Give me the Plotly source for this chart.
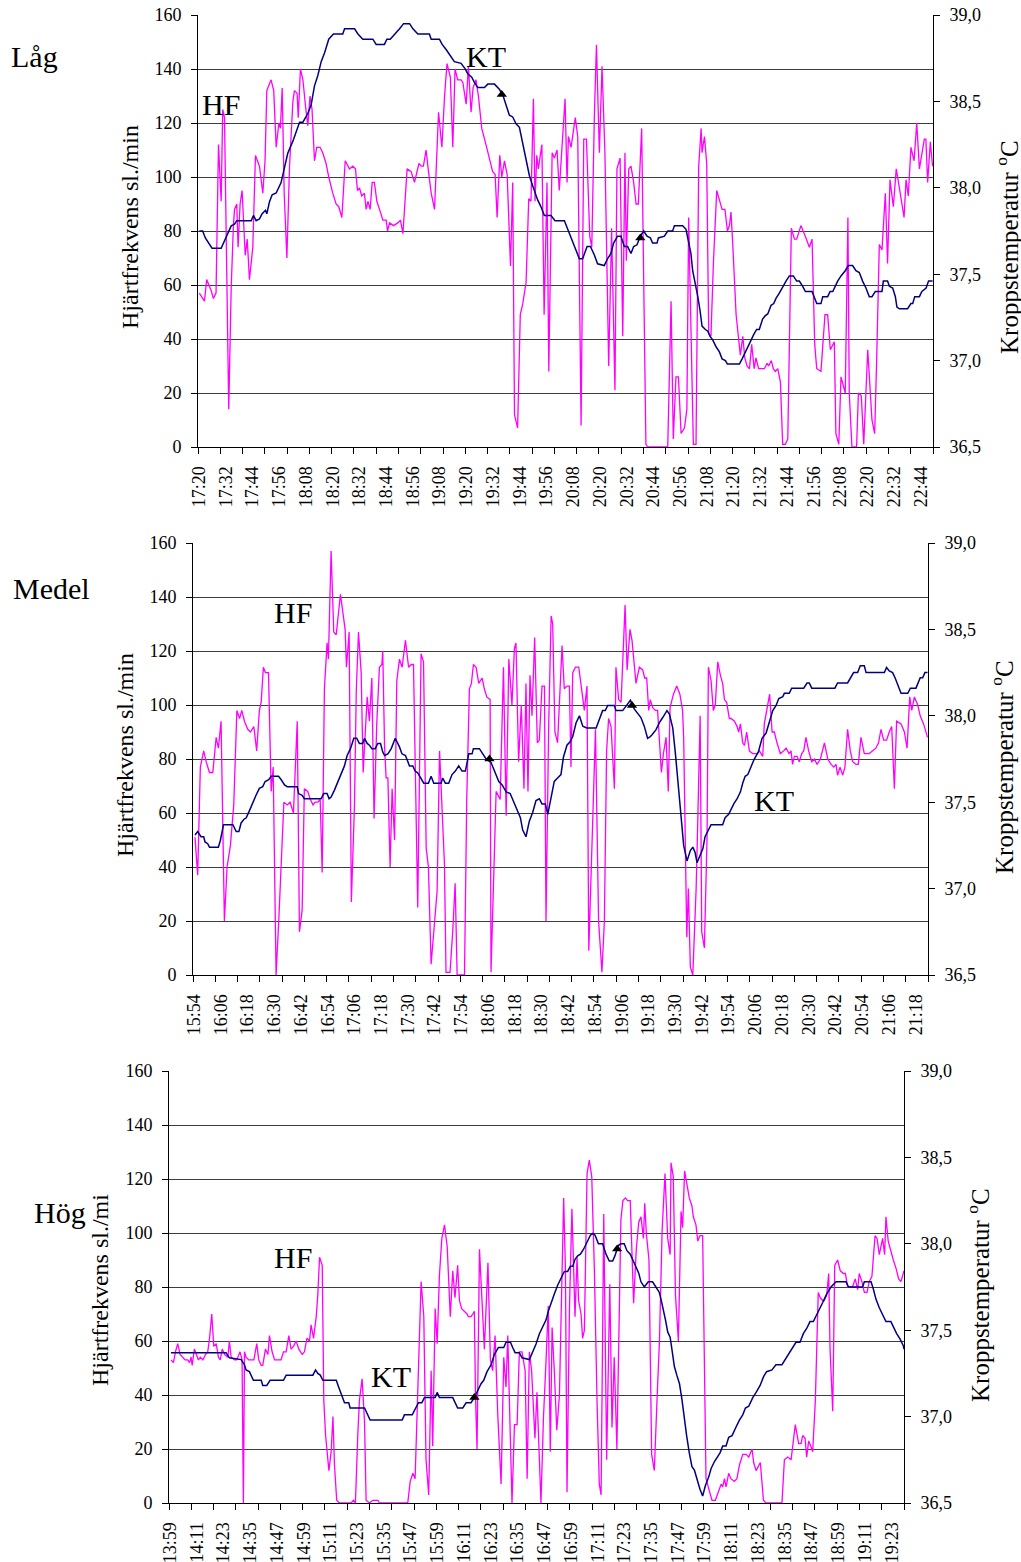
import plotly.graph_objects as go

W, H = 1021, 1562
FONT = "Liberation Serif, Times New Roman, serif"
HF_COLOR = "#FF00FF"
KT_COLOR = "#000080"
GRID = "#3c3c3c"

# ---------------------------------------------------------------------------
# Låg  (start 17:20, one category per minute, x = minutes after start)
# ---------------------------------------------------------------------------
lag_ticks = ["17:20", "17:32", "17:44", "17:56", "18:08", "18:20", "18:32",
             "18:44", "18:56", "19:08", "19:20", "19:32", "19:44", "19:56",
             "20:08", "20:20", "20:32", "20:44", "20:56", "21:08", "21:20",
             "21:32", "21:44", "21:56", "22:08", "22:20", "22:32", "22:44"]

lag_hf = [(0.1,57),(2.4,54),(3.4,62),(5.4,58),(6.4,55),(7.6,57),(8.7,112),(9.9,91),(10.6,125),(11.4,122),
 (13.3,14),(14.4,59),(15.4,82),(15.9,88),(16.9,90),(17.5,74),(18.4,90),(19.3,95),(20.7,71),(21.6,77),
 (22.6,62),(24.1,74),(25.3,108),(27.1,104),(28.6,94),(29.6,106),(30.4,132),(32.3,136),(33.5,132),(34.6,111),
 (35.8,120),(36.5,118),(37.3,133),(38.2,94),(39.4,70),(40.6,104),(42.1,128),(42.8,132),(44.0,131),(44.5,122),
 (45.5,140),(46.6,136),(47.8,126),(48.8,119),(49.8,130),(50.7,125),(51.8,106),(52.8,111),(54.3,111),(55.5,109),
 (57.0,105),(58.2,100),(60.0,94),(61.5,90),(62.7,89),(64.1,85),(65.6,106),(67.5,103),(69.0,104),(70.2,103),
 (71.1,95),(72.0,96),(73.0,93),(74.2,94),(75.0,88),(75.8,91),(76.8,88),(77.7,98),(78.7,98),(79.8,91),
 (81.0,88),(82.5,84),(84.0,84),(84.6,80),(85.5,83),(87.3,82),(89.2,83),(90.4,84),(91.5,79),(93.4,103),
 (95.2,102),(96.7,98),(98.7,105),(99.7,104),(100.7,104),(101.9,110),(103.0,102),(104.2,94),(105.7,88),(107.5,124),
 (109.0,111),(110.2,130),(111.3,142),(112.8,137),(113.9,111),(114.9,140),(116.1,136),(117.6,136),(118.4,135),(119.9,127),
 (120.9,141),(122.1,124),(123.0,133),(124.3,136),(125.4,130),(126.9,118),(128.8,112),(130.8,106),(131.8,102),(132.9,101),
 (133.8,85),(135.0,108),(135.9,100),(137.1,106),(138.3,101),(139.8,67),(140.8,98),(141.6,12),(143.0,7),(144.2,49),
 (145.3,53),(146.8,61),(148.0,92),(149.0,91),(150.1,129),(150.8,91),(151.6,108),(152.3,103),(153.1,107),(153.9,112),
 (154.9,49),(156.2,98),(157.0,28),(158.5,109),(159.5,107),(160.7,110),(161.7,95),(162.8,110),(164.3,129),(165.2,98),
 (165.8,115),(167.0,111),(168.0,116),(168.9,122),(170.0,115),(171.5,8),(172.7,114),(173.9,114),(175.4,78),(176.3,74),
 (177.5,124),(178.4,149),(179.7,109),(180.9,141),(182.2,109),(183.0,72),(183.9,30),(185.2,81),(186.7,21),(187.6,103),
 (189.0,107),(190.2,41),(191.2,109),(191.8,69),(192.9,103),(193.9,104),(195.1,98),(196.2,90),(197.2,90),(198.7,118),
 (200.6,1),(201.4,0),(210.4,0),(211.9,54),(212.9,3),(214.1,26),(215.2,26),(216.4,5),(217.9,7),(219.0,14),
 (219.8,85),(221.9,1),(223.1,1),(224.3,104),(225.4,118),(225.8,109),(226.9,115),(227.9,105),(228.8,42),(229.8,41),
 (230.9,68),(232.4,95),(233.6,91),(234.8,88),(236.1,88),(237.2,80),(238.1,82),(238.8,87),(239.6,75),(241.1,49),
 (243.0,34),(244.1,41),(245.0,33),(246.0,30),(247.1,29),(248.1,38),(249.2,29),(250.0,33),(251.2,29),(253.8,29),
 (255.0,31),(255.7,30),(256.9,32),(257.8,29),(258.7,28),(259.8,29),(261.0,24),(262.0,1),(263.2,1),(264.3,3),
 (265.9,81),(267.3,77),(268.3,77),(270.2,82),(272.2,78),(274.0,74),(275.2,77),(276.4,38),(277.3,29),(279.2,28),
 (281.0,49),(282.2,49),(283.4,36),(285.2,39),(285.9,5),(287.2,1),(288.2,26),(290.1,20),(291.3,85),(291.9,20),
 (293.1,0),(295.2,0),(296.0,20),(297.3,19),(298.4,1),(300.2,36),(302.1,10),(303.3,5),(304.2,32),(305.4,75),
 (306.6,73),(308.1,94),(309.1,68),(310.2,99),(311.7,89),(313.0,103),(314.4,96),(315.6,89),(316.5,85),(317.4,99),
 (318.4,93),(319.6,111),(321.0,106),(322.2,120),(323.4,103),(325.6,114),(326.3,114),(327.1,98),(328.3,113),(329.3,104)]

lag_kt = [(0.1,37.75),(1.6,37.75),(2.8,37.71),(4.3,37.68),(5.8,37.65),(9.9,37.65),(11.4,37.69),(12.9,37.74),(14.4,37.78),(15.9,37.79),
 (16.9,37.81),(23.4,37.81),(24.4,37.84),(25.6,37.81),(27.1,37.82),(28.3,37.85),(29.8,37.87),(30.4,37.85),(31.6,37.92),(32.8,37.96),
 (34.6,37.97),(36.8,38.03),(38.3,38.12),(39.8,38.20),(42.1,38.27),(43.6,38.33),(45.1,38.38),(46.6,38.38),(48.8,38.43),(50.3,38.48),
 (51.8,38.59),(53.3,38.65),(54.8,38.73),(56.3,38.78),(58.2,38.86),(60.3,38.89),(64.5,38.89),(65.3,38.92),(69.8,38.92),(71.3,38.89),
 (73.5,38.86),(78.0,38.86),(79.5,38.83),(83.2,38.83),(84.3,38.86),(85.8,38.86),(88.0,38.89),(90.0,38.92),(91.8,38.95),(94.5,38.95),
 (96.0,38.92),(98.2,38.89),(103.4,38.89),(104.2,38.86),(107.9,38.86),(109.1,38.83),(110.9,38.80),(112.8,38.76),(114.6,38.73),(117.6,38.72),
 (119.4,38.69),(120.6,38.66),(122.4,38.64),(123.6,38.61),(125.1,38.58),(128.1,38.58),(129.6,38.60),(132.6,38.60),(134.8,38.57),(136.3,38.54),
 (137.8,38.48),(139.3,38.42),(140.8,38.41),(142.3,38.37),(143.8,38.35),(145.3,38.26),(146.8,38.16),(148.3,38.07),(149.8,38.01),(152.0,37.93),
 (153.5,37.89),(155.0,37.84),(158.0,37.84),(159.8,37.81),(164.0,37.81),(165.5,37.76),(167.3,37.70),(169.2,37.64),(170.7,37.59),(172.2,37.59),
 (174.2,37.66),(175.7,37.66),(177.5,37.61),(178.9,37.56),(181.9,37.55),(183.4,37.59),(184.9,37.62),(186.1,37.68),(187.9,37.72),(189.4,37.72),
 (190.9,37.66),(192.4,37.66),(193.9,37.62),(195.1,37.66),(196.6,37.67),(198.1,37.72),(199.6,37.75),(201.1,37.72),(202.6,37.71),(203.6,37.68),
 (205.6,37.68),(206.2,37.71),(208.9,37.72),(210.4,37.75),(212.6,37.75),(213.4,37.78),(217.1,37.78),(218.6,37.76),(219.6,37.70),(220.8,37.62),
 (221.6,37.52),(222.8,37.45),(223.9,37.37),(224.9,37.29),(225.8,37.20),(227.3,37.18),(228.4,37.17),(229.4,37.14),(230.6,37.12),(232.1,37.08),
 (233.6,37.05),(234.8,37.01),(236.3,37.00),(237.2,36.98),(242.6,36.98),(243.8,37.01),(245.6,37.06),(247.4,37.11),(249.0,37.15),(250.3,37.18),
 (251.5,37.18),(253.0,37.24),(254.2,37.26),(255.3,37.27),(256.8,37.32),(258.0,37.33),(259.0,37.36),(260.5,37.39),(262.0,37.43),(263.5,37.46),
 (265.0,37.49),(266.8,37.49),(268.3,37.46),(269.5,37.46),(271.0,37.43),(272.2,37.40),(275.2,37.40),(276.2,37.36),(277.3,37.33),(279.2,37.33),
 (280.0,37.37),(282.2,37.37),(283.3,37.40),(284.5,37.40),(285.5,37.43),(286.7,37.46),(288.2,37.49),(290.1,37.52),(291.5,37.55),(293.4,37.55),
 (294.9,37.52),(296.4,37.51),(297.9,37.46),(299.4,37.42),(300.9,37.37),(302.1,37.37),(303.6,37.40),(306.6,37.40),(307.2,37.46),(309.1,37.46),
 (309.9,37.43),(311.4,37.42),(312.6,37.37),(313.3,37.31),(314.4,37.30),(318.1,37.30),(319.6,37.33),(320.4,37.33),(321.3,37.37),(323.4,37.37),
 (324.5,37.40),(326.4,37.42),(327.5,37.46),(329.3,37.46)]

lag_marks = [(135.9, 38.54), (198.1, 37.71)]

# ---------------------------------------------------------------------------
# Medel  (start 15:54)
# ---------------------------------------------------------------------------
medel_ticks = ["15:54", "16:06", "16:18", "16:30", "16:42", "16:54", "17:06",
               "17:18", "17:30", "17:42", "17:54", "18:06", "18:18", "18:30",
               "18:42", "18:54", "19:06", "19:18", "19:30", "19:42", "19:54",
               "20:06", "20:18", "20:30", "20:42", "20:54", "21:06", "21:18"]

medel_hf = [(0.4,51),(1.6,37),(2.8,77),(4.3,83),(5.4,79),(6.9,75),(8.4,75),(9.9,88),(10.9,84),(12.1,94),
 (13.6,20),(14.8,40),(16.3,48),(17.8,63),(19.2,98),(20.4,95),(21.4,98),(22.6,94),(24.1,91),(25.3,90),
 (26.8,92),(28.1,83),(29.3,98),(30.1,101),(31.1,114),(32.0,112),(33.4,112),(34.6,68),(35.5,77),(36.8,0),
 (38.0,20),(39.1,43),(40.3,64),(41.8,63),(43.1,64),(44.6,60),(46.3,94),(47.3,16),(48.5,24),(49.5,69),
 (51.0,68),(52.2,65),(53.4,63),(54.3,64),(55.5,64),(56.6,65),(57.5,38),(58.5,106),(59.7,123),(60.3,117),
 (61.5,157),(62.7,127),(63.8,126),(65.7,141),(67.8,128),(68.4,114),(69.6,127),(70.6,27),(72.0,63),(72.8,105),
 (73.8,127),(75.0,112),(75.9,75),(77.7,103),(78.7,94),(79.8,110),(80.8,58),(82.0,93),(83.2,114),(84.3,115),
 (84.7,120),(85.5,85),(86.2,73),(87.0,73),(88.0,40),(88.9,69),(90.0,50),(91.0,109),(92.2,117),(93.4,114),
 (94.9,124),(96.3,114),(97.5,115),(98.5,115),(100.4,25),(101.9,119),(103.0,116),(104.2,47),(105.2,40),(106.4,4),
 (109.1,31),(110.2,83),(111.3,59),(112.4,41),(113.1,1),(114.9,1),(116.1,16),(117.2,34),(118.1,0),(121.4,0),
 (122.4,65),(123.6,106),(124.5,108),(125.4,115),(126.6,114),(127.8,108),(129.3,110),(130.3,106),(131.4,103),(132.9,102),
 (133.3,1),(134.4,38),(135.6,68),(137.4,65),(138.9,114),(140.1,59),(141.3,117),(142.7,100),(143.8,121),(144.5,123),
 (145.7,79),(146.9,100),(148.1,69),(149.0,108),(149.9,68),(150.8,111),(151.7,96),(152.9,125),(154.1,86),(155.0,87),
 (156.2,107),(157.3,107),(158.0,20),(159.2,93),(160.3,133),(161.0,130),(162.0,90),(163.2,86),(165.2,122),(166.2,106),
 (167.4,107),(168.5,107),(169.2,77),(170.0,112),(171.2,114),(172.7,114),(174.2,103),(175.2,98),(176.4,107),(177.2,9),
 (180.2,91),(181.6,20),(183.1,1),(184.2,20),(185.2,83),(186.1,95),(187.2,92),(188.7,69),(189.4,114),(190.6,102),
 (191.7,101),(192.4,117),(193.5,137),(194.4,113),(195.7,128),(196.6,124),(198.4,108),(199.9,114),(201.4,113),(202.3,110),
 (203.2,110),(204.1,98),(204.8,102),(205.9,99),(207.1,98),(208.1,98),(209.8,75),(210.7,82),(211.9,88),(212.9,68),
 (213.7,99),(215.2,104),(216.7,107),(218.1,104),(219.3,98),(219.8,88),(221.2,14),(221.9,32),(222.8,3),(223.9,0),
 (225.4,32),(226.1,56),(227.2,96),(227.9,16),(229.1,10),(230.3,51),(230.9,114),(232.1,109),(233.1,98),(234.0,100),
 (235.1,116),(236.3,111),(237.3,108),(238.1,102),(239.1,101),(240.3,95),(241.1,95),(242.6,94),(243.8,92),(244.5,90),
 (245.3,93),(246.3,86),(247.1,85),(248.1,90),(249.3,83),(250.8,82),(252.7,82),(253.8,83),(255.3,81),(256.0,93),
 (257.2,99),(258.4,104),(259.5,90),(260.5,90),(261.7,86),(263.2,82),(264.7,83),(265.8,84),(267.1,82),(268.0,83),
 (268.7,78),(269.5,81),(270.7,81),(271.7,79),(272.8,82),(273.7,83),(274.7,88),(275.9,83),(277.3,79),(278.5,80),
 (279.7,78),(281.2,80),(283.0,86),(284.5,80),(286.0,78),(287.2,77),(288.2,78),(288.9,74),(290.0,77),(291.2,74),
 (292.2,77),(293.4,91),(294.6,83),(295.7,79),(297.2,78),(298.2,78),(299.4,88),(300.9,82),(303.1,82),(304.9,83),
 (306.1,84),(307.3,86),(308.4,91),(309.6,87),(310.9,87),(312.1,90),(313.2,92),(314.4,69),(315.4,94),(317.4,93),
 (318.9,90),(320.1,84),(321.3,103),(322.2,98),(323.4,103),(324.9,100),(326.0,96),(327.5,93),(329.3,88)]

medel_kt = [(0.4,37.31),(1.6,37.33),(3.1,37.30),(4.3,37.30),(4.9,37.27),(6.1,37.26),(6.9,37.24),(10.9,37.24),(11.8,37.28),(13.2,37.37),
 (17.4,37.37),(18.9,37.33),(20.1,37.33),(21.1,37.38),(22.3,37.40),(23.4,37.41),(24.8,37.45),(26.3,37.50),(27.8,37.54),(29.3,37.58),
 (30.8,37.59),(31.9,37.62),(33.5,37.63),(34.6,37.65),(37.9,37.65),(39.1,37.63),(40.6,37.60),(41.8,37.59),(46.3,37.59),(46.9,37.55),
 (48.5,37.54),(49.5,37.52),(57.0,37.52),(58.2,37.55),(59.7,37.55),(60.6,37.52),(61.5,37.53),(63.0,37.57),(64.5,37.62),(66.0,37.67),
 (67.5,37.71),(68.7,37.77),(70.2,37.81),(71.7,37.87),(73.0,37.87),(74.2,37.84),(75.7,37.84),(76.5,37.87),(77.7,37.84),(78.7,37.83),
 (79.8,37.81),(81.3,37.81),(82.5,37.84),(83.7,37.84),(84.7,37.79),(85.5,37.77),(87.0,37.78),(88.5,37.81),(90.3,37.87),(92.2,37.82),
 (93.3,37.78),(94.9,37.77),(96.7,37.71),(98.2,37.71),(99.2,37.68),(100.4,37.67),(101.6,37.64),(103.1,37.61),(105.2,37.61),(106.4,37.65),
 (107.6,37.61),(110.9,37.61),(111.6,37.64),(112.8,37.61),(114.3,37.61),(115.8,37.66),(117.3,37.68),(118.8,37.71),(120.3,37.68),(121.8,37.68),
 (123.3,37.78),(124.8,37.78),(125.4,37.81),(128.1,37.81),(129.6,37.78),(131.1,37.75),(133.3,37.73),(134.8,37.68),(136.8,37.62),(138.3,37.60),
 (140.1,37.56),(141.9,37.55),(143.5,37.50),(145.3,37.45),(146.5,37.41),(147.5,37.34),(149.0,37.30),(150.5,37.39),(152.0,37.44),(153.5,37.51),
 (155.0,37.52),(156.2,37.49),(157.7,37.49),(158.8,37.43),(160.3,37.53),(161.7,37.62),(163.2,37.64),(164.7,37.66),(165.8,37.76),(167.4,37.83),
 (168.8,37.85),(170.0,37.88),(171.5,37.96),(173.0,38.00),(174.5,37.94),(176.3,37.93),(180.5,37.93),(181.9,37.98),(183.4,38.03),(184.6,38.03),
 (185.7,38.06),(188.7,38.06),(189.4,38.03),(192.4,38.03),(194.2,38.06),(195.9,38.09),(197.6,38.04),(199.2,38.01),(200.6,37.99),(202.1,37.94),
 (203.6,37.87),(204.8,37.88),(205.6,37.89),(207.4,37.92),(208.9,37.96),(210.4,37.99),(212.3,38.03),(213.4,38.01),(214.9,37.93),(216.1,37.78),
 (217.5,37.58),(219.0,37.39),(219.8,37.25),(221.3,37.16),(222.8,37.22),(223.9,37.24),(224.9,37.21),(225.8,37.15),(226.9,37.18),(228.4,37.23),
 (229.4,37.30),(230.6,37.33),(232.1,37.37),(237.3,37.37),(238.4,37.41),(240.0,37.43),(241.1,37.46),(242.3,37.49),(243.8,37.52),(245.3,37.56),
 (246.3,37.61),(247.4,37.65),(248.6,37.66),(250.0,37.70),(251.5,37.75),(253.3,37.79),(255.0,37.87),(256.8,37.90),(258.3,37.96),(259.8,38.03),
 (261.3,38.06),(262.5,38.10),(264.3,38.11),(265.0,38.13),(267.2,38.13),(268.3,38.16),(273.7,38.16),(275.2,38.19),(276.2,38.19),(277.3,38.16),
 (287.7,38.16),(288.9,38.19),(293.4,38.19),(294.9,38.22),(296.1,38.25),(297.9,38.25),(299.1,38.29),(300.9,38.29),(301.7,38.25),(309.9,38.25),
 (310.9,38.28),(312.1,38.26),(313.6,38.25),(314.7,38.22),(315.9,38.18),(317.4,38.13),(320.4,38.13),(321.6,38.16),(324.1,38.16),(325.1,38.19),
 (326.0,38.22),(327.1,38.22),(328.1,38.25),(329.3,38.25)]

medel_marks = [(132.6, 37.75), (196.6, 38.06)]

# ---------------------------------------------------------------------------
# Hög  (start 13:59)
# ---------------------------------------------------------------------------
hog_ticks = ["13:59", "14:11", "14:23", "14:35", "14:47", "14:59", "15:11",
             "15:23", "15:35", "15:47", "15:59", "16:11", "16:23", "16:35",
             "16:47", "16:59", "17:11", "17:23", "17:35", "17:47", "17:59",
             "18:11", "18:23", "18:35", "18:47", "18:59", "19:11", "19:23"]

hog_hf = [(0.4,53),(1.5,52),(2.4,56),(3.4,59),(4.5,55),(5.7,54),(6.7,53),(7.9,53),(8.7,52),(9.4,54),
 (9.9,51),(10.9,57),(12.0,54),(12.7,53),(13.6,54),(14.7,53),(15.9,55),(16.9,56),(17.7,61),(18.7,70),
 (19.6,58),(20.7,59),(21.7,54),(22.5,53),(23.4,57),(24.5,55),(25.9,54),(26.6,60),(27.4,54),(28.9,53),
 (29.9,53),(31.4,56),(32.3,53),(32.9,0),(33.4,56),(34.1,54),(35.3,53),(36.4,53),(37.6,53),(38.9,59),
 (39.8,53),(40.9,51),(41.6,51),(42.8,57),(43.9,55),(44.6,62),(45.8,56),(46.9,53),(48.4,53),(49.8,53),
 (50.9,56),(52.1,56),(53.3,62),(54.3,57),(55.4,58),(56.6,60),(57.8,57),(59.3,55),(60.3,56),(61.4,61),
 (62.6,60),(63.3,66),(64.4,61),(65.6,69),(66.3,77),(67.1,91),(68.3,88),(69.0,38),(69.8,25),(71.3,12),
 (72.3,19),(73.1,32),(73.8,14),(74.8,1),(76.0,0),(81.3,0),(82.3,1),(83.2,0),(84.3,26),(85.0,38),
 (86.2,46),(87.3,30),(88.0,1),(89.5,0),(91.0,1),(93.3,1),(94.0,0),(106.7,0),(107.8,8),(109.0,11),
 (110.0,9),(111.2,38),(112.7,82),(113.9,69),(114.9,16),(116.1,3),(117.2,49),(117.9,21),(119.0,72),(119.9,59),
 (120.9,84),(122.0,98),(123.2,103),(124.4,95),(125.8,69),(126.9,86),(127.9,76),(129.1,88),(129.9,75),(130.9,72),
 (132.1,71),(133.3,70),(133.9,69),(135.1,69),(135.9,70),(136.6,71),(137.1,40),(137.8,20),(138.9,94),(139.9,79),
 (141.1,57),(142.7,89),(143.8,53),(144.8,49),(145.9,62),(147.1,33),(148.6,7),(149.8,54),(150.8,43),(151.6,62),
 (152.3,40),(153.5,0),(154.6,29),(155.8,29),(156.8,56),(158.0,56),(159.4,49),(160.3,9),(161.3,56),(162.3,49),
 (163.8,24),(164.7,41),(166.5,0),(167.6,31),(168.8,53),(169.8,73),(170.7,19),(171.5,65),(172.5,49),(173.6,27),
 (174.8,40),(175.5,65),(176.7,113),(177.5,86),(178.2,4),(179.3,72),(180.4,109),(181.8,69),(182.7,91),(183.4,75),
 (184.5,70),(185.2,61),(186.0,64),(187.2,122),(188.2,127),(189.3,121),(190.5,86),(191.7,37),(192.7,7),(193.5,3),
 (194.7,107),(196.0,16),(197.4,81),(198.4,28),(199.4,54),(200.6,20),(201.4,58),(202.4,105),(203.3,112),(204.4,113),
 (205.4,112),(206.6,112),(208.1,74),(209.3,94),(210.4,104),(211.4,106),(212.5,98),(213.1,111),(213.8,100),(215.0,90),
 (216.2,18),(217.4,12),(218.6,38),(219.7,60),(220.9,101),(222.2,122),(223.4,98),(224.5,92),(224.9,126),(225.9,121),
 (226.9,77),(228.2,60),(229.4,108),(230.1,102),(231.0,123),(232.2,117),(233.1,113),(234.3,110),(234.9,106),(236.1,103),
 (236.9,97),(237.9,99),(239.1,99),(240.6,9),(241.8,5),(243.3,1),(244.8,1),(246.3,5),(247.4,7),(248.1,6),
 (248.9,9),(249.6,6),(250.8,11),(251.8,9),(253.3,8),(254.5,9),(255.6,14),(257.1,18),(258.6,18),(259.8,17),
 (261.3,20),(262.0,15),(263.1,12),(265.0,15),(266.4,1),(267.5,0),(274.7,0),(275.8,16),(277.3,17),(278.8,16),
 (279.5,21),(280.7,29),(282.2,22),(283.3,22),(284.0,25),(285.1,24),(285.8,17),(286.7,23),(287.7,21),(288.5,19),
 (289.7,38),(291.0,78),(291.9,76),(293.0,75),(293.7,75),(294.8,77),(295.7,85),(296.3,57),(297.5,34),(298.4,88),
 (299.7,90),(300.9,86),(302.3,85),(303.2,85),(304.2,80),(305.4,80),(306.4,80),(307.6,83),(308.7,79),(309.4,85),
 (310.6,82),(311.7,78),(312.9,78),(313.9,82),(315.1,84),(316.5,99),(317.4,98),(318.4,92),(319.9,98),(320.8,92),
 (321.4,106),(322.4,97),(323.6,93),(324.7,90),(325.9,87),(327.1,83),(328.1,82),(329.2,86),(329.5,86)]

hog_kt = [(0.4,37.37),(25.1,37.37),(26.6,37.34),(31.9,37.33),(33.4,37.30),(34.1,37.27),(35.6,37.26),(36.8,37.23),(37.4,37.21),(40.9,37.21),
 (41.6,37.18),(43.4,37.18),(44.9,37.21),(50.9,37.21),(52.1,37.24),(64.1,37.24),(65.3,37.27),(66.3,37.25),(67.4,37.24),(68.6,37.21),
 (74.6,37.21),(75.7,37.17),(76.8,37.13),(78.3,37.08),(80.2,37.08),(80.8,37.05),(87.3,37.05),(88.8,37.01),(89.8,36.98),(104.2,36.98),
 (105.2,37.01),(108.7,37.01),(110.5,37.06),(111.5,37.08),(113.0,37.08),(114.2,37.11),(119.0,37.11),(119.9,37.14),(120.9,37.11),(126.9,37.11),
 (129.1,37.05),(131.4,37.05),(132.9,37.08),(135.1,37.08),(136.6,37.11),(138.1,37.15),(139.6,37.19),(140.8,37.21),(142.3,37.26),(144.1,37.30),
 (145.6,37.36),(147.4,37.40),(149.8,37.40),(150.8,37.43),(152.8,37.43),(153.8,37.40),(154.9,37.37),(156.8,37.37),(158.0,37.34),(161.3,37.33),
 (162.8,37.37),(164.3,37.42),(165.8,37.48),(167.3,37.52),(168.8,37.56),(169.8,37.61),(171.0,37.66),(172.5,37.71),(174.0,37.76),(175.5,37.80),
 (177.0,37.84),(178.5,37.84),(179.7,37.87),(180.8,37.87),(181.8,37.91),(183.0,37.93),(184.2,37.94),(185.7,37.97),(187.2,38.01),(188.7,38.05),
 (189.7,38.06),(190.8,38.05),(192.3,38.00),(194.2,38.00),(195.7,37.94),(197.2,37.90),(198.7,37.90),(199.7,37.93),(201.2,37.99),(202.4,38.00),
 (203.9,38.00),(205.1,37.96),(206.6,37.94),(208.1,37.90),(209.2,37.87),(210.4,37.83),(211.4,37.78),(212.9,37.75),(214.7,37.78),(216.6,37.78),
 (218.1,37.75),(219.6,37.72),(220.4,37.68),(221.5,37.62),(222.4,37.56),(223.4,37.49),(224.5,37.46),(225.4,37.38),(226.4,37.29),(227.5,37.24),
 (228.7,37.19),(229.8,37.10),(230.9,36.98),(231.9,36.89),(233.1,36.79),(234.3,36.71),(235.4,36.69),(236.9,36.62),(237.9,36.58),(239.1,36.54),
 (240.3,36.60),(241.8,36.65),(242.9,36.70),(244.4,36.74),(245.4,36.76),(246.9,36.79),(248.1,36.83),(249.6,36.83),(250.8,36.88),(252.3,36.89),
 (254.1,36.94),(255.6,36.98),(257.1,37.01),(258.3,37.05),(259.8,37.06),(261.6,37.11),(263.1,37.14),(264.9,37.18),(266.4,37.23),(267.8,37.26),
 (270.2,37.27),(272.0,37.30),(274.7,37.30),(276.2,37.33),(278.0,37.37),(279.5,37.40),(281.0,37.43),(282.8,37.43),(284.3,37.48),(285.8,37.51),
 (287.3,37.55),(288.8,37.55),(290.0,37.58),(291.5,37.62),(293.0,37.66),(294.8,37.71),(296.7,37.75),(299.0,37.78),(303.5,37.78),(304.6,37.75),
 (310.9,37.75),(311.7,37.78),(314.7,37.78),(315.7,37.74),(316.9,37.68),(318.4,37.63),(319.9,37.59),(321.4,37.55),(323.6,37.55),(324.7,37.52),
 (326.2,37.48),(327.7,37.45),(329.2,37.41),(329.5,37.39)]

hog_marks = [(136.6, 37.11), (200.7, 37.97)]

# ---------------------------------------------------------------------------
# Panel frames in pixels: (left, right, top, bottom)
# ---------------------------------------------------------------------------
panels = [
    dict(box=(198, 933, 15, 447), ticks=lag_ticks, hf=lag_hf, kt=lag_kt, marks=lag_marks),
    dict(box=(193, 928, 543, 975), ticks=medel_ticks, hf=medel_hf, kt=medel_kt, marks=medel_marks),
    dict(box=(169, 904, 1071, 1503), ticks=hog_ticks, hf=hog_hf, kt=hog_kt, marks=hog_marks),
]

N_MIN = 330  # categories per panel (one per minute)


def fx(px):
    return px / W


def fy(py):
    return 1 - py / H


tick_font = dict(family=FONT, size=18, color="black")
xtick_font = dict(family=FONT, size=18, color="black")
fig = go.Figure()
layout = {}

for i, p in enumerate(panels):
    k = i + 1
    xa = "x" if k == 1 else f"x{k}"
    ya_hf = "y" if k == 1 else f"y{3 * k - 2}"
    ya_kt = f"y{3 * k - 1}"
    ya_in = f"y{3 * k}"          # inner half of the crossing ticks on the right axis
    x0, x1, yt, yb = p["box"]

    hf_t, hf_v = zip(*p["hf"])
    kt_t, kt_v = zip(*p["kt"])
    mk_t, mk_v = zip(*p["marks"])

    fig.add_trace(go.Scatter(x=hf_t, y=hf_v, mode="lines", xaxis=xa, yaxis=ya_hf,
                             line=dict(color=HF_COLOR, width=1.3), showlegend=False))
    fig.add_trace(go.Scatter(x=kt_t, y=kt_v, mode="lines", xaxis=xa, yaxis=ya_kt,
                             line=dict(color=KT_COLOR, width=1.5), showlegend=False))
    fig.add_trace(go.Scatter(x=mk_t, y=mk_v, mode="markers", xaxis=xa, yaxis=ya_kt,
                             marker=dict(symbol="triangle-up", size=9, color="black"),
                             showlegend=False))

    xkey = "xaxis" if k == 1 else f"xaxis{k}"
    ykey_hf = "yaxis" if k == 1 else f"yaxis{3 * k - 2}"
    ykey_kt = f"yaxis{3 * k - 1}"
    ykey_in = f"yaxis{3 * k}"

    layout[xkey] = dict(
        domain=[fx(x0), fx(x1)], anchor=ya_hf, automargin=False,
        range=[-0.5, N_MIN - 0.5],
        tickmode="array", tickvals=list(range(0, 12 * len(p["ticks"]), 12)),
        ticktext=p["ticks"], tickangle=-90, ticks="",
        tickfont=xtick_font, ticklabelstandoff=11,
        showline=True, linecolor="black", linewidth=1,
        showgrid=False, zeroline=False,
        minor=dict(tickmode="array",
                   tickvals=[v - 0.5 for v in range(0, N_MIN + 1, 10)],
                   ticks="outside", ticklen=6, tickcolor="black", showgrid=False),
    )
    layout[ykey_hf] = dict(
        domain=[fy(yb), fy(yt)], anchor=xa, automargin=False,
        range=[0, 160], tickmode="linear", tick0=0, dtick=20,
        ticks="outside", ticklen=6, tickcolor="black", tickfont=tick_font,
        ticklabelstandoff=6,
        showline=True, linecolor="black", linewidth=1,
        showgrid=True, gridcolor=GRID, gridwidth=1, zeroline=False,
    )
    layout[ykey_kt] = dict(
        overlaying=ya_hf, anchor=xa, side="right", automargin=False,
        range=[36.5, 39.0], tickmode="linear", tick0=36.5, dtick=0.5,
        tickformat=".1f", ticks="outside", ticklen=6, tickcolor="black",
        tickfont=tick_font, ticklabelstandoff=6,
        showline=True, linecolor="black", linewidth=1,
        showgrid=False, zeroline=False,
    )
    layout[ykey_in] = dict(
        overlaying=ya_hf, anchor=xa, side="right", automargin=False,
        range=[36.5, 39.0], tickmode="linear", tick0=36.5, dtick=0.5,
        ticks="inside", ticklen=6, tickcolor="black", showticklabels=False,
        showline=False, showgrid=False, zeroline=False,
    )


# Text labels (paper coordinates from pixel centres)
def label(text, px, py, size=30, angle=0):
    return dict(text=text, x=fx(px), y=fy(py), xref="paper", yref="paper",
                xanchor="center", yanchor="middle", showarrow=False,
                textangle=angle, font=dict(family=FONT, size=size, color="black"))


hr_title = "Hjärtfrekvens sl./min"
kt_title = "Kroppstemperatur <sup>o</sup>C"

annotations = [
    label("Låg", 34, 57), label("HF", 221, 104), label("KT", 486, 57),
    label("Medel", 51, 589), label("HF", 293, 612), label("KT", 774, 800),
    label("Hög", 60, 1212), label("HF", 293, 1257), label("KT", 391, 1376),
    label(hr_title, 130, 227, 24, -90),
    label(hr_title, 125, 755, 24, -90),
    label("Hjärtfrekvens sl./mi", 100, 1290, 24, -90),
    label(kt_title, 1007, 247, 25, -90),
    label(kt_title, 1002, 767, 25, -90),
    label(kt_title, 978, 1295, 25, -90),
]

fig.update_layout(
    width=W, height=H, autosize=False,
    margin=dict(l=0, r=0, t=0, b=0),
    paper_bgcolor="white", plot_bgcolor="white",
    separators=", ",
    font=dict(family=FONT, color="black"),
    annotations=annotations,
    **layout,
)

fig.write_html("out.html")
